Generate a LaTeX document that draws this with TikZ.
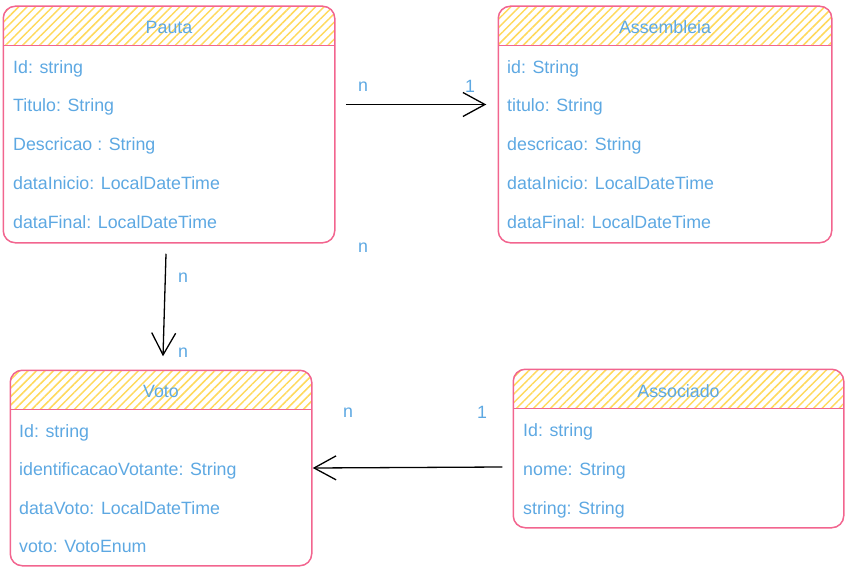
\documentclass[tikz,border=0pt]{standalone}
\usepackage{fontspec}
\setmainfont{Liberation Sans}
\usetikzlibrary{arrows.meta,patterns.meta}
\definecolor{boxpink}{HTML}{F2658F}
\definecolor{hatchyellow}{HTML}{FFD95C}
\definecolor{fieldblue}{HTML}{5DA8E2}
\tikzset{
    classbox/.style={draw=boxpink, line width=1.5pt, rounded corners=12pt, inner sep=0pt},
    field/.style={anchor=base west, inner sep=0pt, text=fieldblue, font=\fontsize{17.8}{20}\selectfont},
    title/.style={anchor=base, inner sep=0pt, text=fieldblue, font=\fontsize{17.8}{20}\selectfont},
    mult/.style={inner sep=0pt, text=fieldblue, font=\fontsize{17.8}{20}\selectfont},
    assoc/.style={line width=1.3pt, -{Straight Barb[length=22pt,width=24pt,line width=1.3pt]}}
}
\begin{document}
\begin{tikzpicture}[x=1pt, y=-1pt]
            \useasboundingbox (0,0) rectangle (850,577);

            % class boxes
            \node[classbox, draw=none, minimum width=330pt, minimum height=235pt] (pauta) at (169,124.5) {};
            \node[classbox, draw=none, minimum width=332pt, minimum height=235pt] (assembleia) at (665,124.5) {};
            \node[classbox, draw=none, minimum width=300pt, minimum height=194pt] (voto) at (161,468) {};
            \node[classbox, draw=none, minimum width=329pt, minimum height=157pt] (associado) at (678.5,448.5) {};

            % hatched headers
            \foreach \b in {pauta,assembleia,voto,associado} {
                \begin{scope}
                    \clip[rounded corners=12pt] (\b.north west) rectangle (\b.south east);
                    \fill[pattern={Lines[angle=45,distance=6pt,line width=1.5pt]}, pattern color=hatchyellow]
                        (\b.north west) rectangle ([yshift=-39pt]\b.north east);
                \end{scope}
                \draw[boxpink, line width=1.3pt] ([yshift=-39pt]\b.north west) -- ([yshift=-39pt]\b.north east);
                \draw[classbox] (\b.north west) rectangle (\b.south east);
            }

            % Pauta
            \node[title] (pautaTitle) at (169,34) {Pauta};
            \node[field] (pautaId) at (13,74) {Id: string};
            \node[field] (pautaTitulo) at (13,112) {Titulo: String};
            \node[field] (pautaDescricao) at (13,151) {Descricao : String};
            \node[field] (pautaInicio) at (13,190) {dataInicio: LocalDateTime};
            \node[field] (pautaFinal) at (13,229) {dataFinal: LocalDateTime};

            % Assembleia
            \node[title] (assembleiaTitle) at (665,34) {Assembleia};
            \node[field] (assembleiaId) at (507,74) {id: String};
            \node[field] (assembleiaTitulo) at (507,112) {titulo: String};
            \node[field] (assembleiaDescricao) at (507,151) {descricao: String};
            \node[field] (assembleiaInicio) at (507,190) {dataInicio: LocalDateTime};
            \node[field] (assembleiaFinal) at (507,229) {dataFinal: LocalDateTime};

            % Voto
            \node[title] (votoTitle) at (161,397) {Voto};
            \node[field] (votoId) at (19,437) {Id: string};
            \node[field] (votoVotante) at (19,475) {identificacaoVotante: String};
            \node[field] (votoData) at (19,514) {dataVoto: LocalDateTime};
            \node[field] (votoVoto) at (19,552) {voto: VotoEnum};

            % Associado
            \node[title] (associadoTitle) at (678.5,397) {Associado};
            \node[field] (associadoId) at (523,436) {Id: string};
            \node[field] (associadoNome) at (523,475) {nome: String};
            \node[field] (associadoString) at (523,514) {string: String};

            % multiplicities
            \node[mult] (nPA) at (363,87) {n};
            \node[mult] (oneA) at (470,86) {1};
            \node[mult] (nLoose) at (363,248) {n};
            \node[mult] (nPauta) at (183,278) {n};
            \node[mult] (nVoto) at (183,353) {n};
            \node[mult] (nVA) at (348,413) {n};
            \node[mult] (oneAssoc) at (482,412) {1};

            % associations
            \draw[assoc] ([xshift=11pt,yshift=20pt]pauta.east) to ([xshift=-12pt,yshift=20pt]assembleia.west);
            \draw[assoc] ([xshift=-3pt,yshift=-11pt]pauta.south) to ([xshift=2pt,yshift=14pt]voto.north);
            \draw[assoc] ([xshift=-11pt,yshift=-18.5pt]associado.west) to ([xshift=1pt]voto.east);
        \end{tikzpicture}
\end{document}
